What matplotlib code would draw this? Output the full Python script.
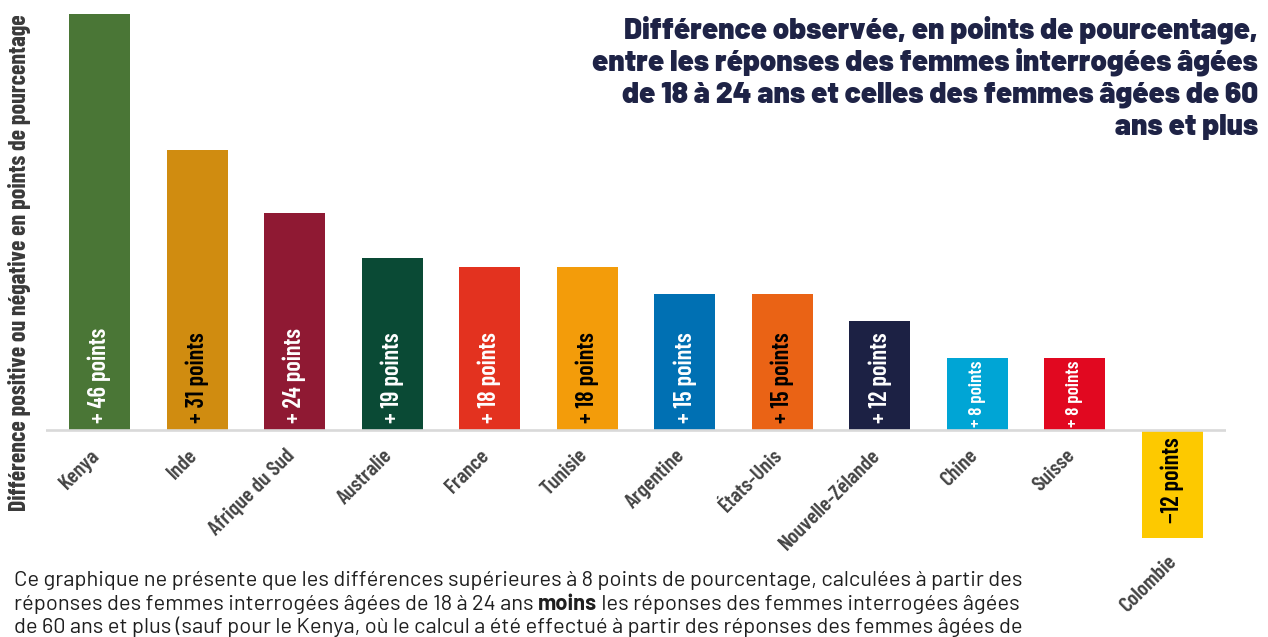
import matplotlib
matplotlib.use("Agg")
import matplotlib.pyplot as plt
from matplotlib import font_manager as fm
from matplotlib.transforms import offset_copy

countries = ["Kenya", "Inde", "Afrique du Sud", "Australie", "France", "Tunisie",
             "Argentine", "États-Unis", "Nouvelle-Zélande", "Chine", "Suisse", "Colombie"]
differences = [46, 31, 24, 19, 18, 18, 15, 15, 12, 8, 8, -12]
bar_colors = ["#4a7636", "#d08c10", "#8f1933", "#0a4a35", "#e3321f", "#f39c0a",
              "#0070b3", "#ea6315", "#1c2144", "#00a5d5", "#e10820", "#fdc900"]
value_text_colors = ["white", "black", "white", "white", "white", "black",
                     "white", "black", "white", "white", "white", "black"]

title_lines = ["Différence observée, en points de pourcentage,",
               "entre les réponses des femmes interrogées âgées",
               "de 18 à 24 ans et celles des femmes âgées de 60",
               "ans et plus"]
y_title = "Différence positive ou négative en points de pourcentage"
note_line1 = "Ce graphique ne présente que les différences supérieures à 8 points de pourcentage, calculées à partir des"
note_line2 = ["réponses des femmes interrogées âgées de 18 à 24 ans ", "moins",
              " les réponses des femmes interrogées âgées"]
note_line3 = "de 60 ans et plus (sauf pour le Kenya, où le calcul a été effectué à partir des réponses des femmes âgées de"

# ---- fonts -------------------------------------------------------------
names = {f.name for f in fm.fontManager.ttflist}


def first_available(cands, fallback="DejaVu Sans"):
    for c in cands:
        if c in names:
            return c
    return fallback


cond_font = first_available(["Barlow Condensed", "Roboto Condensed", "DejaVu Sans"])
head_font = first_available(["Barlow", "Roboto", "DejaVu Sans"])
body_font = first_available(["Barlow", "Roboto", "DejaVu Sans"])

W, H = 1268, 637
fig = plt.figure(figsize=(W / 100, H / 100), dpi=100)
renderer = fig.canvas.get_renderer()


def text_width(text, size, **kw):
    t = fig.text(0, 0, text, fontsize=size, **kw)
    w = t.get_window_extent(renderer=renderer).width
    t.remove()
    return w


def fit(text, target_px, **kw):
    return 20 * target_px / text_width(text, 20, **kw)


def fx(px):
    return px / W


def fy(px):
    return 1 - px / H


# ---- bars --------------------------------------------------------------
ax = fig.add_axes([fx(46), fy(565.6), 1180 / W, 551.6 / H])
ax.set_xlim(-0.55, 11.55)
ax.set_ylim(-15, 46)
ax.axis("off")

xs = list(range(len(countries)))
ax.bar(xs, differences, width=0.625, color=bar_colors, zorder=2)
ax.axhline(0, color="#d9d9d9", lw=1.9, zorder=3)

val_kw = dict(family=cond_font, weight=600)
tick_kw = dict(family=cond_font, weight=600)
val_size = fit("+ 46 points", 95, **val_kw)
tick_size = fit("Afrique du Sud", 112, **tick_kw)
tick_color = "#444444"
px_per_unit = ax.transData.transform((0, 1))[1] - ax.transData.transform((0, 0))[1]

for x, v, tc, name in zip(xs, differences, value_text_colors, countries):
    label = f"+ {v} points" if v >= 0 else f"\u2212{abs(v)} points"
    bar_px = abs(v) * px_per_unit
    size, gap = val_size, 7
    w = text_width(label, size, **val_kw)
    if w > bar_px - 2 * gap:
        # short bar: tighten the margins, then shrink the text to fit
        gap = 3
        room = bar_px - 2 * gap
        if w > room:
            size = size * room / w
    if v >= 0:
        tr = offset_copy(ax.transData, fig=fig, y=gap, units="dots")
        ax.text(x, 0, label, rotation=90, ha="center", va="bottom", color=tc,
                fontsize=size, transform=tr, zorder=4, **val_kw)
        ttr = offset_copy(ax.transData, fig=fig, x=4, y=-16, units="dots")
        ax.text(x, 0, name, rotation=45, ha="right", va="top", color=tick_color,
                fontsize=tick_size, transform=ttr, **tick_kw)
    else:
        tr = offset_copy(ax.transData, fig=fig, y=-gap, units="dots")
        ax.text(x, 0, label, rotation=90, ha="center", va="top", color=tc,
                fontsize=size, transform=tr, zorder=4, **val_kw)
        ttr = offset_copy(ax.transData, fig=fig, x=8, y=-14, units="dots")
        ax.text(x, v, name, rotation=45, ha="right", va="top", color=tick_color,
                fontsize=tick_size, transform=ttr, **tick_kw)

# ---- axis title ----------------------------------------------------------
ylab_size = fit(y_title, 498, family=cond_font, weight="bold")
fig.text(fx(20), fy(263), y_title, rotation=90, ha="center", va="center",
         color="#3a3a3a", fontsize=ylab_size, family=cond_font, weight="bold")

# ---- heading -------------------------------------------------------------
title_kw = dict(family=head_font, weight=900)
title_size = fit(title_lines[1], 666, **title_kw)
for i, line in enumerate(title_lines):
    fig.text(fx(1258), fy(39 + 32 * i), line, ha="right", va="baseline",
             color="#1e2346", fontsize=title_size, **title_kw)

# ---- note ----------------------------------------------------------------
note_size = fit(note_line1, 1008, family=body_font)
note_color = "#1f1f1f"
fig.text(fx(14), fy(586), note_line1, ha="left", va="baseline", color=note_color,
         fontsize=note_size, family=body_font)
x_px = 14
for j, piece in enumerate(note_line2):
    t = fig.text(fx(x_px), fy(610), piece, ha="left", va="baseline", color=note_color,
                 fontsize=note_size, family=body_font,
                 weight="bold" if j == 1 else "normal")
    x_px += t.get_window_extent(renderer=renderer).width
fig.text(fx(14), fy(633), note_line3, ha="left", va="baseline", color=note_color,
         fontsize=note_size, family=body_font)

fig.savefig("out.png", dpi=100)
